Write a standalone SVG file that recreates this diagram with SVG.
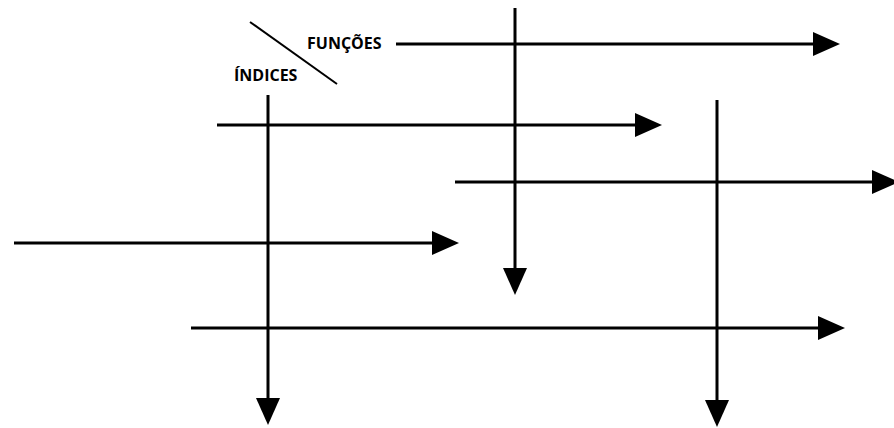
<svg xmlns="http://www.w3.org/2000/svg" width="894" height="428" viewBox="0 0 894 428">
<defs>
<style>
.ln{stroke:#000;stroke-width:3;fill:none}
.lbl{font-family:"Open Sans","Noto Sans",sans-serif;font-weight:bold;font-size:16px;fill:#000}
</style>
<marker id="ah" viewBox="0 0 27 24" refX="0" refY="12" markerWidth="27" markerHeight="24" markerUnits="userSpaceOnUse" orient="auto">
<path d="M0,0 L27,12 L0,24 Z" fill="#000"/>
</marker>
</defs>
<rect width="894" height="428" fill="#fff"/>
<g id="header">
<line x1="250" y1="22" x2="337" y2="84" stroke="#000" stroke-width="2"/>
<text class="lbl" x="307" y="49">FUNÇÕES</text>
<text class="lbl" x="234" y="81">ÍNDICES</text>
</g>
<g id="connectors">
<line class="ln" x1="396" y1="44" x2="813" y2="44" marker-end="url(#ah)"/>
<line class="ln" x1="515" y1="8" x2="515" y2="268" marker-end="url(#ah)"/>
<line class="ln" x1="217" y1="125" x2="635" y2="125" marker-end="url(#ah)"/>
<line class="ln" x1="268" y1="95" x2="268" y2="398" marker-end="url(#ah)"/>
<line class="ln" x1="717" y1="100" x2="717" y2="400" marker-end="url(#ah)"/>
<line class="ln" x1="455" y1="182" x2="872" y2="182" marker-end="url(#ah)"/>
<line class="ln" x1="14" y1="243" x2="432" y2="243" marker-end="url(#ah)"/>
<line class="ln" x1="191" y1="328" x2="818" y2="328" marker-end="url(#ah)"/>
</g>
</svg>
